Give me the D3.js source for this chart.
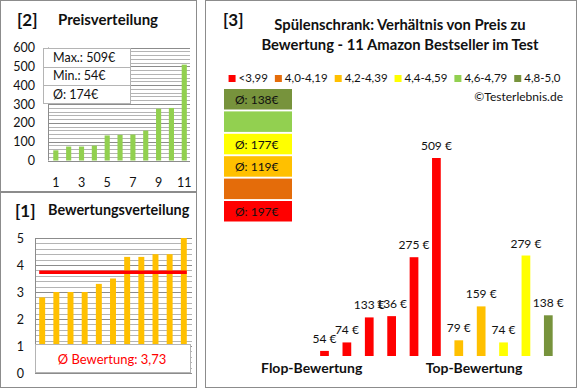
<html>
<head>
<style>
  body { margin: 0; background: #fff; }
  text { font-family: Lato, "Open Sans", sans-serif; fill: #111; }
</style>
</head>
<body>
<script src="https://d3js.org/d3.v7.min.js"></script>
<svg id="chart" width="580" height="390"></svg>
<script>
  // ---- data ----
  const ranks = ['1', '2', '3', '4', '5', '6', '7', '8', '9', '10', '11'];
  const pricesSorted = [54, 74, 74, 79, 133, 136, 138, 159, 275, 279, 509];
  const priceTicks = [0, 100, 200, 300, 400, 500, 600];
  const priceStats = ['Max.: 509€', 'Min.: 54€', 'Ø: 174€'];

  const ratingsSorted = [2.8, 3.0, 3.0, 3.0, 3.3, 3.5, 4.3, 4.3, 4.4, 4.4, 5.0];
  const ratingTicks = [0, 1, 2, 3, 4, 5];
  const ratingAvg = 3.73;
  const ratingAvgLabel = 'Ø Bewertung: 3,73';

  const legendLabels = ['<3,99', '4,0-4,19', '4,2-4,39', '4,4-4,59', '4,6-4,79', '4,8-5,0'];
  const legendColors = ['#ff0000', '#e46c0a', '#ffc000', '#ffff00', '#92d050', '#77933c'];
  // boxes top -> bottom (best class first)
  const avgBoxLabels = ['Ø: 138€', '', 'Ø: 177€', 'Ø: 119€', '', 'Ø: 197€'];

  const testPrices = [54, 74, 133, 136, 275, 509, 79, 159, 74, 279, 138];
  const testClass = [0, 0, 0, 0, 0, 0, 2, 2, 3, 3, 5];

  const svg = d3.select('#chart');

  // panel frames
  const frames = [[0.5, 0.5, 196, 191], [0.5, 192.5, 196, 195], [205.5, 0.5, 371, 387]];
  svg.selectAll('rect.frame').data(frames).enter().append('rect')
    .attr('class', 'frame')
    .attr('x', d => d[0]).attr('y', d => d[1])
    .attr('width', d => d[2]).attr('height', d => d[3])
    .attr('fill', 'none').attr('stroke', '#8c8c8c');

  // ================= [2] Preisverteilung =================
  const p2 = svg.append('g');
  p2.append('text').text('[2]').attr('x', 17).attr('y', 26)
    .style('font-size', '17px').style('font-weight', 'bold');
  p2.append('text').text('Preisverteilung').attr('x', 58).attr('y', 25)
    .style('font-size', '15px').style('font-weight', 'bold');

  const x2 = d3.scaleBand().domain(ranks).range([49.4, 190.7])
    .paddingInner(0.6).paddingOuter(0.3);
  const y2 = d3.scaleLinear().domain([0, 600]).range([160.5, 47.5]);

  // grid lines every 20
  p2.append('g').selectAll('line').data(d3.range(0, 601, 20)).enter().append('line')
    .attr('x1', 48).attr('x2', 190)
    .attr('y1', d => Math.round(y2(d)) + 0.5).attr('y2', d => Math.round(y2(d)) + 0.5)
    .attr('stroke', d => d % 100 === 0 ? '#8c8c8c' : '#b4b4b4');
  p2.append('line').attr('x1', 48.5).attr('x2', 48.5)
    .attr('y1', y2(600)).attr('y2', y2(0)).attr('stroke', '#8c8c8c');

  p2.selectAll('text.yt').data(priceTicks).enter().append('text')
    .attr('class', 'yt').text(d => d)
    .attr('x', 35).attr('y', d => y2(d) + 4.5)
    .attr('text-anchor', 'end').style('font-size', '12.5px');

  p2.selectAll('rect.bar').data(pricesSorted).enter().append('rect')
    .attr('class', 'bar')
    .attr('x', (d, i) => x2(ranks[i])).attr('width', x2.bandwidth())
    .attr('y', d => y2(d)).attr('height', d => y2(0) - y2(d))
    .attr('fill', '#92d050');

  p2.selectAll('text.xt').data(ranks.filter((d, i) => i % 2 === 0)).enter().append('text')
    .attr('class', 'xt').text(d => d)
    .attr('x', d => x2(d) + x2.bandwidth() / 2).attr('y', 187)
    .attr('text-anchor', 'middle').style('font-size', '12.5px');

  // stats box
  const sb = p2.append('g');
  sb.append('rect').attr('x', 43.5).attr('y', 48.5).attr('width', 87).attr('height', 55)
    .attr('fill', '#fff').attr('stroke', '#b4b4b4');
  sb.selectAll('line').data([67, 85]).enter().append('line')
    .attr('x1', 43.5).attr('x2', 130.5).attr('y1', d => d + 0.5).attr('y2', d => d + 0.5)
    .attr('stroke', '#b4b4b4');
  sb.selectAll('text').data(priceStats).enter().append('text')
    .text(d => d).attr('x', 53).attr('y', (d, i) => 62 + i * 18.3)
    .style('font-size', '12.5px');

  // ================= [1] Bewertungsverteilung =================
  const p1 = svg.append('g');
  p1.append('text').text('[1]').attr('x', 15).attr('y', 217)
    .style('font-size', '17px').style('font-weight', 'bold');
  p1.append('text').text('Bewertungsverteilung').attr('x', 48).attr('y', 215)
    .style('font-size', '14.4px').style('font-weight', 'bold');

  const x1 = d3.scaleBand().domain(ranks).range([35.1, 190.9])
    .paddingInner(0.58).paddingOuter(0.29);
  const y1 = d3.scaleLinear().domain([0, 5]).range([373, 238]);

  p1.append('g').selectAll('line').data(d3.range(0, 26)).enter().append('line')
    .attr('x1', 35).attr('x2', 192)
    .attr('y1', d => Math.round(y1(d / 5)) + 0.5).attr('y2', d => Math.round(y1(d / 5)) + 0.5)
    .attr('stroke', d => d % 5 === 0 ? '#8c8c8c' : '#b4b4b4');
  p1.append('line').attr('x1', 35.5).attr('x2', 35.5)
    .attr('y1', y1(5)).attr('y2', y1(0)).attr('stroke', '#8c8c8c');

  p1.selectAll('text.yt').data(ratingTicks).enter().append('text')
    .attr('class', 'yt').text(d => d)
    .attr('x', 24).attr('y', d => y1(d) + 4.5)
    .attr('text-anchor', 'end').style('font-size', '12.5px');

  p1.selectAll('rect.bar').data(ratingsSorted).enter().append('rect')
    .attr('class', 'bar')
    .attr('x', (d, i) => x1(ranks[i])).attr('width', x1.bandwidth())
    .attr('y', d => y1(d)).attr('height', d => y1(0) - y1(d))
    .attr('fill', '#ffc000');

  p1.append('line')
    .attr('x1', x1(ranks[0])).attr('x2', x1(ranks[10]) + x1.bandwidth())
    .attr('y1', y1(ratingAvg)).attr('y2', y1(ratingAvg))
    .attr('stroke', '#ff0000').attr('stroke-width', 3.5);

  p1.append('rect').attr('x', 35.5).attr('y', 344.5).attr('width', 155).attr('height', 28)
    .attr('fill', '#fff').attr('stroke', '#b4b4b4');
  p1.append('text').text(ratingAvgLabel).attr('x', 112).attr('y', 364)
    .attr('text-anchor', 'middle').style('font-size', '13px').style('fill', '#ff0000');

  // ================= [3] Preis zu Bewertung =================
  const p3 = svg.append('g');
  p3.append('text').text('[3]').attr('x', 223).attr('y', 26)
    .style('font-size', '17px').style('font-weight', 'bold');
  p3.selectAll('text.title')
    .data(['Spülenschrank: Verhältnis von Preis zu', 'Bewertung - 11 Amazon Bestseller im Test'])
    .enter().append('text').attr('class', 'title')
    .text(d => d).attr('x', 400).attr('y', (d, i) => 30 + i * 20)
    .attr('text-anchor', 'middle')
    .style('font-size', '14.8px').style('font-weight', 'bold');

  // legend, laid out from text widths and centred
  const lg = p3.append('g');
  const items = lg.selectAll('g').data(legendLabels).enter().append('g');
  items.append('rect').attr('width', 7).attr('height', 7).attr('y', 75)
    .attr('fill', (d, i) => legendColors[i]);
  items.append('text').text(d => d).attr('x', 10).attr('y', 82)
    .style('font-size', '11.5px');
  let cx = 0;
  items.each(function () {
    const w = d3.select(this).select('text').node().getComputedTextLength();
    d3.select(this).attr('transform', `translate(${cx},0)`);
    cx += 10 + w + 7;
  });
  lg.attr('transform', `translate(${394.5 - (cx - 7) / 2},0)`);

  p3.append('text').text('©Testerlebnis.de').attr('x', 563).attr('y', 101)
    .attr('text-anchor', 'end').style('font-size', '12px');

  // average boxes
  const ab = p3.selectAll('g.avg').data(avgBoxLabels).enter().append('g').attr('class', 'avg')
    .attr('transform', (d, i) => `translate(224,${89 + i * 22.4})`);
  ab.append('rect').attr('width', 68).attr('height', 20.5)
    .attr('fill', (d, i) => legendColors[5 - i]);
  ab.append('text').text(d => d).attr('x', 11).attr('y', 15)
    .style('font-size', '12px');

  const x3 = d3.scaleBand().domain(d3.range(testPrices.length)).range([313.3, 559.5])
    .paddingInner(0.61).paddingOuter(0.305);
  const y3 = d3.scaleLinear().domain([42, 509]).range([356, 158]);

  p3.selectAll('rect.bar').data(testPrices).enter().append('rect')
    .attr('class', 'bar')
    .attr('x', (d, i) => x3(i)).attr('width', x3.bandwidth())
    .attr('y', d => y3(d)).attr('height', d => y3(42) - y3(d))
    .attr('fill', (d, i) => legendColors[testClass[i]]);

  p3.selectAll('text.val').data(testPrices).enter().append('text')
    .attr('class', 'val').text(d => d + ' €')
    .attr('x', (d, i) => x3(i) + x3.bandwidth() / 2).attr('y', d => y3(d) - 8)
    .attr('text-anchor', 'middle').style('font-size', '12px');

  p3.selectAll('text.grp').data([['Flop-Bewertung', 311.7], ['Top-Bewertung', 474]])
    .enter().append('text').attr('class', 'grp')
    .text(d => d[0]).attr('x', d => d[1]).attr('y', 373)
    .attr('text-anchor', 'middle')
    .style('font-size', '14px').style('font-weight', 'bold');
</script>
</body>
</html>
